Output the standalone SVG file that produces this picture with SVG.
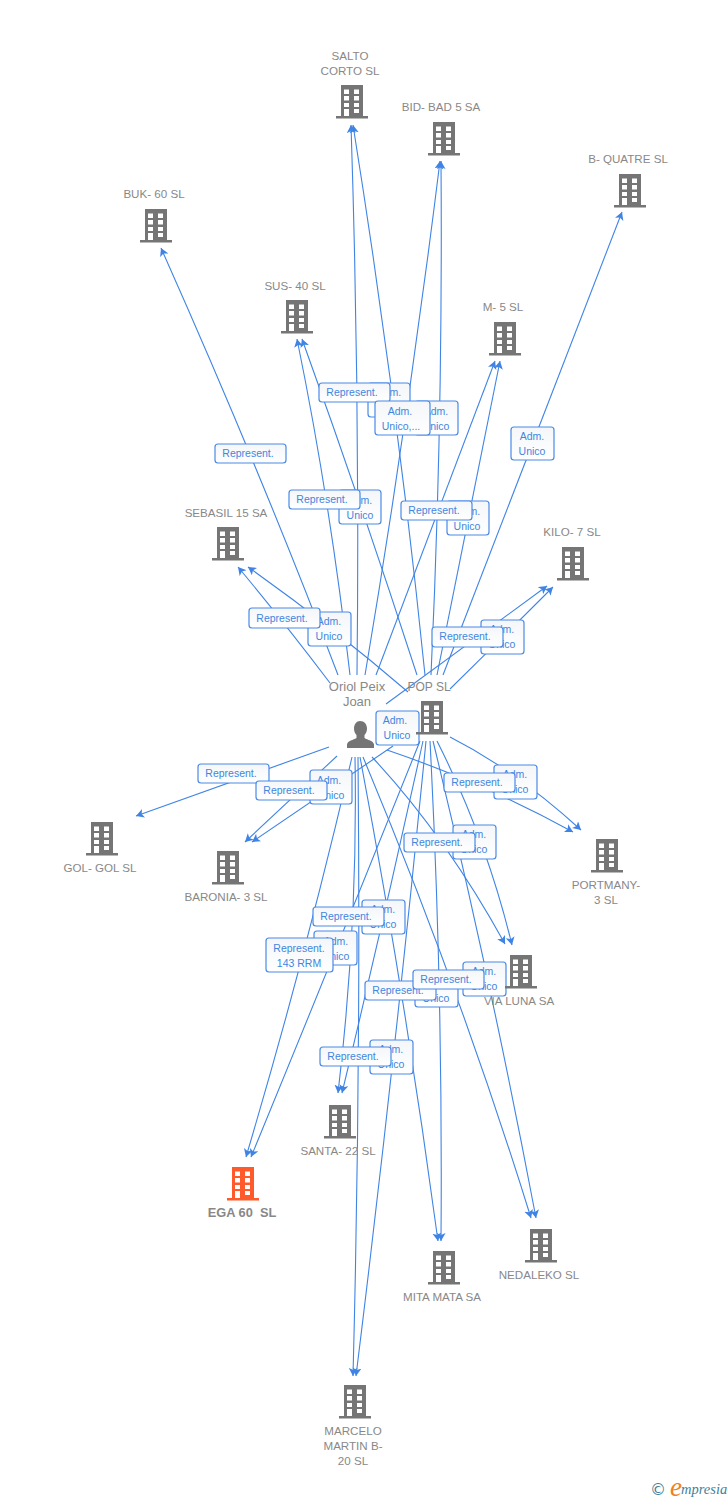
<svg xmlns="http://www.w3.org/2000/svg" width="728" height="1500" viewBox="0 0 728 1500">
<style>
.n{font:11.6px "Liberation Sans",Arial,sans-serif;fill:#888;text-anchor:middle}
.p{font-size:13px}
.q{font-size:12px}
.b{font:bold 12.8px "Liberation Sans",Arial,sans-serif;fill:#888;text-anchor:middle}
.l{font:10.5px "Liberation Sans",Arial,sans-serif;fill:#3f86e0;text-anchor:middle}
.r{fill:url(#g);stroke:#4a8ae6;stroke-width:1.2}
#c path{fill:none;stroke:#3f84e5;stroke-width:1.1;marker-end:url(#a)}
</style>
<defs>
<linearGradient id="g" x1="0" y1="0" x2="0" y2="1"><stop offset="0" stop-color="#f4f6f9"/><stop offset="1" stop-color="#fff"/></linearGradient>
<marker id="a" markerUnits="userSpaceOnUse" markerWidth="10" markerHeight="10" refX="8" refY="4.500" orient="auto"><path d="M0 0L8 4.500L0 9L2 4.500Z" fill="#3f84e5"/></marker>
<symbol id="h" viewBox="0 0 32 34" overflow="visible"><path fill-rule="evenodd" fill="currentColor" d="M5 0H27V31H32V33.500H0V31H5ZM8 4.500V9H13V4.500ZM18 4.500V9H23V4.500ZM8 11V15.500H13V11ZM18 11V15.500H23V11ZM8 18V22H13V18ZM18 18V22H23V18ZM8 24V31H13V24ZM18 24V28H23V24Z"/></symbol>
</defs>
<g id="c">
<path d="M357 675Q360 400 351 125"/><path d="M425 675Q397 400 353 125"/>
<path d="M365 675Q408 420 440 161"/><path d="M431 675Q443 420 441 161"/>
<path d="M338 675Q260 470 161 248"/>
<path d="M350 675Q330 500 297 339"/><path d="M417 675Q362 505 302 339"/>
<path d="M376 675Q436 515 495 361"/><path d="M437 675Q468 520 500 361"/>
<path d="M443 675Q530 450 622 212"/>
<path d="M330 683Q284 622 238 567"/><path d="M408 692Q330 625 248 567"/>
<path d="M386 704Q466 645 547 586"/><path d="M450 689Q502 638 553 587"/>
<path d="M329 747L136 816"/>
<path d="M337 756L245 842"/><path d="M393 746L252 842"/>
<path d="M387 750Q484 783 573 832"/><path d="M450 737Q515 770 581 830"/>
<path d="M372 757Q445 835 505 944"/><path d="M437 741Q486 838 512 945"/>
<path d="M355 757Q358 925 338 1093"/><path d="M423 741Q385 915 342 1093"/>
<path d="M352 757Q306 955 246 1157"/><path d="M420 741Q337 948 251 1157"/>
<path d="M360 757Q405 995 438 1241"/><path d="M430 741Q443 990 441 1241"/>
<path d="M363 757Q460 989 531 1218"/><path d="M433 741Q490 975 536 1218"/>
<path d="M358 757Q361 1070 353 1376"/><path d="M426 741Q395 1060 356 1376"/>
</g>
<g id="labels">
<rect class="r" x="215" y="444" width="71" height="19" rx="3"/><text class="l" x="248" y="457">Represent.</text>
<rect class="r" x="368" y="383" width="42" height="34" rx="3"/><text class="l" x="389" y="396">Adm.</text><text class="l" x="389" y="411">Unico</text>
<rect class="r" x="319" y="383" width="71" height="19" rx="3"/><text class="l" x="352" y="396">Represent.</text>
<rect class="r" x="415" y="401" width="43" height="34" rx="3"/><text class="l" x="436" y="415">Adm.</text><text class="l" x="436" y="430">Unico</text>
<rect class="r" x="375" y="401" width="55" height="34" rx="3"/><text class="l" x="400" y="415">Adm.</text><text class="l" x="401" y="430">Unico,...</text>
<rect class="r" x="511" y="427" width="43" height="33" rx="3"/><text class="l" x="532" y="440">Adm.</text><text class="l" x="532" y="455">Unico</text>
<rect class="r" x="339" y="490" width="42" height="34" rx="3"/><text class="l" x="360" y="504">Adm.</text><text class="l" x="360" y="519">Unico</text>
<rect class="r" x="289" y="490" width="71" height="19" rx="3"/><text class="l" x="322" y="503">Represent.</text>
<rect class="r" x="447" y="501" width="42" height="34" rx="3"/><text class="l" x="468" y="515">Adm.</text><text class="l" x="467" y="530">Unico</text>
<rect class="r" x="401" y="501" width="71" height="19" rx="3"/><text class="l" x="434" y="514">Represent.</text>
<rect class="r" x="308" y="612" width="43" height="34" rx="3"/><text class="l" x="329" y="625">Adm.</text><text class="l" x="329" y="640">Unico</text>
<rect class="r" x="249" y="608" width="71" height="20" rx="3"/><text class="l" x="282" y="622">Represent.</text>
<rect class="r" x="481" y="620" width="43" height="34" rx="3"/><text class="l" x="502" y="633">Adm.</text><text class="l" x="502" y="648">Unico</text>
<rect class="r" x="432" y="627" width="71" height="20" rx="3"/><text class="l" x="465" y="640">Represent.</text>
<rect class="r" x="376" y="711" width="43" height="34" rx="3"/><text class="l" x="395" y="724">Adm.</text><text class="l" x="397" y="739">Unico</text>
<rect class="r" x="198" y="764" width="71" height="19" rx="3"/><text class="l" x="231" y="777">Represent.</text>
<rect class="r" x="310" y="770" width="42" height="34" rx="3"/><text class="l" x="329" y="784">Adm.</text><text class="l" x="331" y="799">Unico</text>
<rect class="r" x="256" y="781" width="71" height="19" rx="3"/><text class="l" x="289" y="794">Represent.</text>
<rect class="r" x="494" y="765" width="43" height="34" rx="3"/><text class="l" x="515" y="778">Adm.</text><text class="l" x="515" y="793">Unico</text>
<rect class="r" x="444" y="773" width="71" height="19" rx="3"/><text class="l" x="477" y="786">Represent.</text>
<rect class="r" x="453" y="825" width="43" height="34" rx="3"/><text class="l" x="474" y="838">Adm.</text><text class="l" x="474" y="853">Unico</text>
<rect class="r" x="404" y="833" width="71" height="19" rx="3"/><text class="l" x="437" y="846">Represent.</text>
<rect class="r" x="362" y="900" width="43" height="34" rx="3"/><text class="l" x="383" y="913">Adm.</text><text class="l" x="383" y="928">Unico</text>
<rect class="r" x="313" y="907" width="71" height="19" rx="3"/><text class="l" x="346" y="920">Represent.</text>
<rect class="r" x="314" y="931" width="43" height="34" rx="3"/><text class="l" x="336" y="945">Adm.</text><text class="l" x="336" y="960">Unico</text>
<rect class="r" x="266" y="938" width="67" height="34" rx="3"/><text class="l" x="299" y="952">Represent.</text><text class="l" x="299" y="967">143 RRM</text>
<rect class="r" x="415" y="973" width="43" height="34" rx="3"/><text class="l" x="436" y="987">Adm.</text><text class="l" x="436" y="1002">Unico</text>
<rect class="r" x="365" y="981" width="71" height="19" rx="3"/><text class="l" x="398" y="994">Represent.</text>
<rect class="r" x="463" y="962" width="43" height="34" rx="3"/><text class="l" x="484" y="975">Adm.</text><text class="l" x="484" y="990">Unico</text>
<rect class="r" x="413" y="970" width="71" height="19" rx="3"/><text class="l" x="446" y="983">Represent.</text>
<rect class="r" x="370" y="1040" width="43" height="34" rx="3"/><text class="l" x="391" y="1053">Adm.</text><text class="l" x="391" y="1068">Unico</text>
<rect class="r" x="320" y="1047" width="71" height="19" rx="3"/><text class="l" x="353" y="1060">Represent.</text>
</g>
<g id="salto" color="#757575"><use href="#h" x="336" y="85" width="32" height="34"/><text class="n" x="350" y="60">SALTO</text><text class="n" x="350" y="75">CORTO SL</text></g>
<g id="bid" color="#757575"><use href="#h" x="428" y="122" width="32" height="34"/><text class="n" x="441" y="111">BID- BAD 5 SA</text></g>
<g id="bquatre" color="#757575"><use href="#h" x="614" y="174" width="32" height="34"/><text class="n" x="628" y="163">B- QUATRE SL</text></g>
<g id="buk" color="#757575"><use href="#h" x="140" y="209" width="32" height="34"/><text class="n" x="154" y="198">BUK- 60 SL</text></g>
<g id="sus" color="#757575"><use href="#h" x="281" y="300" width="32" height="34"/><text class="n" x="295" y="290">SUS- 40 SL</text></g>
<g id="m5" color="#757575"><use href="#h" x="489" y="322" width="32" height="34"/><text class="n" x="503" y="311">M- 5 SL</text></g>
<g id="sebasil" color="#757575"><use href="#h" x="212" y="527" width="32" height="34"/><text class="n" x="226" y="517">SEBASIL 15 SA</text></g>
<g id="kilo" color="#757575"><use href="#h" x="557" y="547" width="32" height="34"/><text class="n" x="572" y="536">KILO- 7 SL</text></g>
<g id="oriol"><path fill="#757575" d="M360 721c4.500 0 7 3.500 7 7.500 0 3-1 5-2.500 6.500v3c3 2 9 2.500 9.500 6.500v3.500H347V744.500c.5-4 6.500-4.500 9.500-6.500v-3c-1.500-1.500-2.500-3.500-2.500-6.500 0-4 2.500-7.500 6-7.500Z"/><text class="n p" x="357" y="691">Oriol Peix</text><text class="n p" x="357" y="706">Joan</text></g>
<g id="pop" color="#757575"><use href="#h" x="416" y="701" width="32" height="34"/><text class="n q" x="429" y="691">POP SL</text></g>
<g id="gol" color="#757575"><use href="#h" x="86" y="822" width="32" height="34"/><text class="n" x="100" y="872">GOL- GOL SL</text></g>
<g id="baronia" color="#757575"><use href="#h" x="212" y="851" width="32" height="34"/><text class="n" x="226" y="901">BARONIA- 3 SL</text></g>
<g id="portmany" color="#757575"><use href="#h" x="591" y="839" width="32" height="34"/><text class="n" x="606" y="889">PORTMANY-</text><text class="n" x="606" y="904">3 SL</text></g>
<g id="vialuna" color="#757575"><use href="#h" x="505" y="955" width="32" height="34"/><text class="n" x="519" y="1005">VIA LUNA SA</text></g>
<g id="santa" color="#757575"><use href="#h" x="324" y="1105" width="32" height="34"/><text class="n" x="338" y="1155">SANTA- 22 SL</text></g>
<g id="ega" color="#ff5a2b"><use href="#h" x="227" y="1167" width="32" height="34"/><text class="b" x="242" y="1217" xml:space="preserve">EGA 60  SL</text></g>
<g id="mita" color="#757575"><use href="#h" x="428" y="1251" width="32" height="34"/><text class="n" x="442" y="1301">MITA MATA SA</text></g>
<g id="nedaleko" color="#757575"><use href="#h" x="525" y="1229" width="32" height="34"/><text class="n" x="539" y="1279">NEDALEKO SL</text></g>
<g id="marcelo" color="#757575"><use href="#h" x="339" y="1385" width="32" height="34"/><text class="n" x="353" y="1435">MARCELO</text><text class="n" x="353" y="1450">MARTIN B-</text><text class="n" x="353" y="1465">20 SL</text></g>
<g id="footer"><text x="650" y="1495" font-family="'DejaVu Sans',sans-serif" font-size="16" fill="#3f7f9a">©</text><text x="670" y="1496" font-family="'Liberation Serif',serif" font-style="italic" font-size="27" fill="#f08020">e</text><text x="681" y="1494" font-family="'Liberation Serif',serif" font-style="italic" font-size="14.500" fill="#3f7f9a">mpresia</text></g>
</svg>
